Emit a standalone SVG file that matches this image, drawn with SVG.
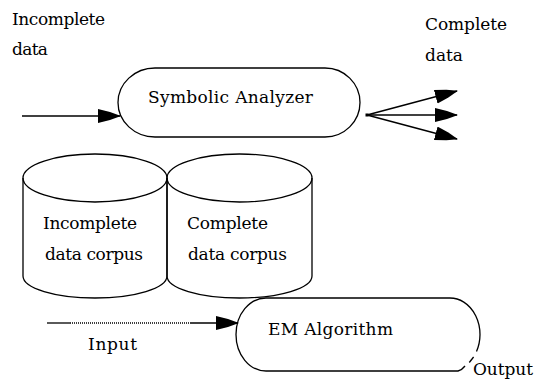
<svg xmlns="http://www.w3.org/2000/svg" width="536" height="379" viewBox="0 0 536 379">
<style>
.s{fill:none;stroke:#000;stroke-width:1.3}
.t{font-family:"DejaVu Serif","Liberation Serif",serif;font-size:17px;fill:#000}
</style>
<defs>
<marker id="ah" markerUnits="userSpaceOnUse" markerWidth="24" markerHeight="15" refX="22" refY="7" orient="auto">
<path d="M0,0 L12,3 L23,7 L12,11 L0,14 Z" fill="#000"/>
</marker>
</defs>
<rect width="536" height="379" fill="#fff"/>
<g id="labels">
<text class="t" x="12" y="25" textLength="93" lengthAdjust="spacing">Incomplete</text>
<text class="t" x="12" y="55" textLength="36" lengthAdjust="spacing">data</text>
<text class="t" x="425" y="30" textLength="82" lengthAdjust="spacing">Complete</text>
<text class="t" x="425" y="61" textLength="38" lengthAdjust="spacing">data</text>
<text class="t" x="88" y="350" textLength="49" lengthAdjust="spacing">Input</text>
<text class="t" x="473" y="375" textLength="60" lengthAdjust="spacing">Output</text>
</g>
<g id="symbolic-analyzer">
<path class="s" d="M155,68 H325 A35,34.5 0 0 1 325,137 H155 A37,34.5 0 0 1 155,68 Z"/>
<text class="t" x="148" y="103" textLength="165" lengthAdjust="spacing">Symbolic Analyzer</text>
</g>
<g id="incomplete-corpus">
<path class="s" d="M23,178 V276 A72,22 0 0 0 167,276 V178"/>
<ellipse class="s" cx="95" cy="178" rx="72" ry="24"/>
<text class="t" x="43" y="229" textLength="94" lengthAdjust="spacing">Incomplete</text>
<text class="t" x="45" y="260" textLength="98" lengthAdjust="spacing">data corpus</text>
</g>
<g id="complete-corpus">
<path class="s" d="M167,178 V276 A72.5,22 0 0 0 312,276 V178"/>
<ellipse class="s" cx="239.5" cy="178" rx="72.5" ry="24"/>
<text class="t" x="187" y="229" textLength="81" lengthAdjust="spacing">Complete</text>
<text class="t" x="188" y="260" textLength="99" lengthAdjust="spacing">data corpus</text>
</g>
<g id="em-algorithm">
<path class="s" d="M476.5,351.6 A30,36.5 0 0 0 450,298 H266 A30,36.5 0 0 0 266,371 H458 Q462,370 465,366"/>
<path class="s" d="M473.6,357 L469.3,362.5"/>
<text class="t" x="268" y="335" textLength="125" lengthAdjust="spacing">EM Algorithm</text>
</g>
<g id="connectors">
<line class="s" x1="22" y1="116" x2="120" y2="116" marker-end="url(#ah)"/>
<rect x="365.5" y="113.5" width="3" height="3" fill="#000"/>
<line class="s" x1="367" y1="115" x2="457" y2="91" marker-end="url(#ah)"/>
<line class="s" x1="367" y1="115" x2="457" y2="115" marker-end="url(#ah)"/>
<line class="s" x1="367" y1="115" x2="457" y2="139" marker-end="url(#ah)"/>
<line class="s" x1="47" y1="323" x2="70" y2="323"/>
<line x1="70" y1="323" x2="190" y2="323" stroke="#000" stroke-width="1.3" stroke-dasharray="1,1"/>
<line class="s" x1="190" y1="323" x2="238" y2="323" marker-end="url(#ah)"/>
</g>
</svg>
